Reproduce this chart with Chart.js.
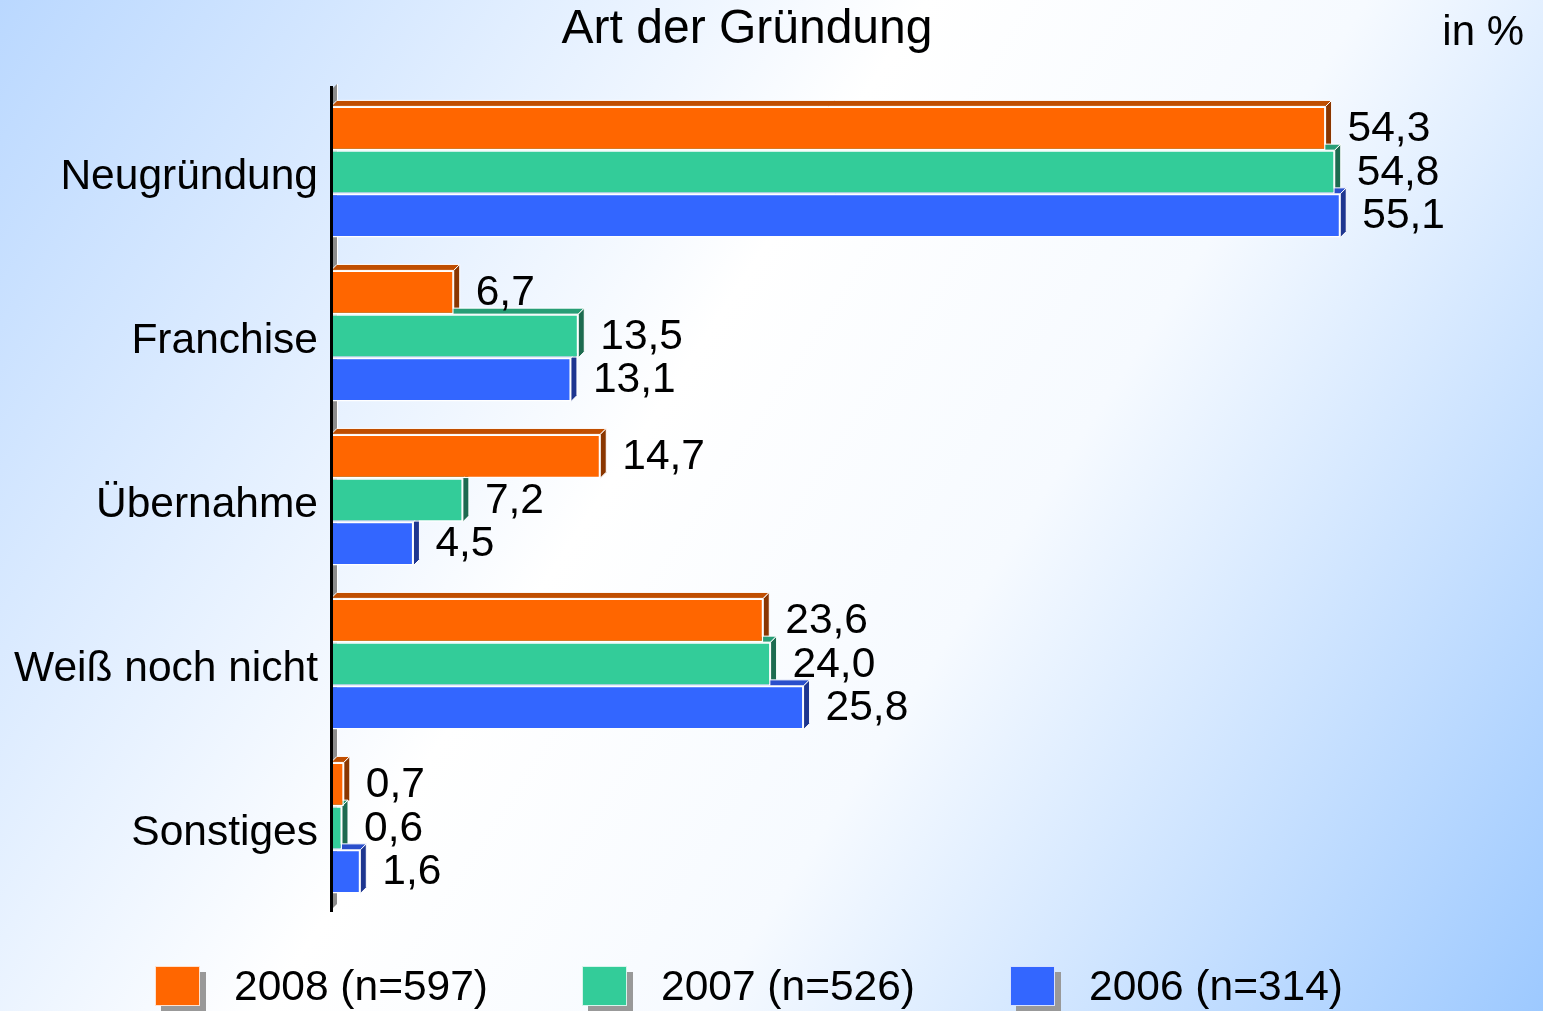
<!DOCTYPE html>
<html>
<head>
<meta charset="utf-8">
<script src="https://cdn.jsdelivr.net/npm/chart.js@4.4.1/dist/chart.umd.min.js"></script>
<style>
  html, body { margin: 0; padding: 0; overflow: hidden; }
  canvas { display: block; }
</style>
</head>
<body>
<canvas id="c" width="1543" height="1011"></canvas>
<script>
// ---- data ----
const categories = ['Neugründung', 'Franchise', 'Übernahme', 'Weiß noch nicht', 'Sonstiges'];
const seriesLabels = ['2008 (n=597)', '2007 (n=526)', '2006 (n=314)'];
const values2008 = [54.3, 6.7, 14.7, 23.6, 0.7];
const values2007 = [54.8, 13.5, 7.2, 24.0, 0.6];
const values2006 = [55.1, 13.1, 4.5, 25.8, 1.6];
const titleText = 'Art der Gründung';
const unitText = 'in %';

// ---- styles ----
const FONT = "'Liberation Sans', Arial, sans-serif";
const LABEL_SIZE = 42.5;
const frontColors = ['#FF6600', '#33CC99', '#3366FF'];
const topColors = ['#C04E00', '#279E76', '#2A4FCC'];
const sideColors = ['#8A3600', '#1D6B50', '#1E3690'];
const DEPTH = 6;

function fmt(v) { return v.toFixed(1).replace('.', ','); }

const bgPlugin = {
  id: 'bg',
  beforeDraw(chart) {
    const ctx = chart.ctx;
    const w = chart.width, h = chart.height;
    const g = ctx.createLinearGradient(0, 0, w, h);
    g.addColorStop(0, '#BAD8FF');
    g.addColorStop(0.42, '#FFFFFF');
    g.addColorStop(0.62, '#F6FAFF');
    g.addColorStop(1, '#9DC9FF');
    ctx.save();
    ctx.fillStyle = g;
    ctx.fillRect(0, 0, w, h);
    ctx.restore();
  }
};

const threeDPlugin = {
  id: 'threeD',
  beforeDatasetsDraw(chart) {
    const ctx = chart.ctx;
    const a = chart.chartArea;
    const d = DEPTH;
    ctx.save();
    // gray axis wall
    ctx.beginPath();
    ctx.moveTo(a.left, a.bottom);
    ctx.lineTo(a.left, a.top);
    ctx.lineTo(a.left + d, a.top - d);
    ctx.lineTo(a.left + d, a.bottom - d);
    ctx.closePath();
    ctx.fillStyle = '#8C8C8C';
    ctx.fill();
    ctx.strokeStyle = '#FFFFFF';
    ctx.lineWidth = 1;
    ctx.beginPath();
    ctx.moveTo(a.left + d + 0.5, a.top - d);
    ctx.lineTo(a.left + d + 0.5, a.bottom - d);
    ctx.stroke();

    // top and side faces
    chart.data.datasets.forEach((ds, i) => {
      const meta = chart.getDatasetMeta(i);
      meta.data.forEach((bar) => {
        const p = bar.getProps(['x', 'y', 'base', 'height'], true);
        const top = p.y - p.height / 2;
        const bottom = p.y + p.height / 2;
        const x0 = p.base, x1 = p.x;
        ctx.beginPath();
        ctx.moveTo(x0, top);
        ctx.lineTo(x1, top);
        ctx.lineTo(x1 + d, top - d);
        ctx.lineTo(x0 + d, top - d);
        ctx.closePath();
        ctx.fillStyle = topColors[i];
        ctx.fill();
        ctx.strokeStyle = '#FFFFFF';
        ctx.lineWidth = 1;
        ctx.stroke();
        ctx.beginPath();
        ctx.moveTo(x1, top);
        ctx.lineTo(x1 + d, top - d);
        ctx.lineTo(x1 + d, bottom - d);
        ctx.lineTo(x1, bottom);
        ctx.closePath();
        ctx.fillStyle = sideColors[i];
        ctx.fill();
        ctx.stroke();
      });
    });
    ctx.restore();
  },
  afterDatasetsDraw(chart) {
    const ctx = chart.ctx;
    const a = chart.chartArea;
    ctx.save();
    // black axis line
    ctx.strokeStyle = '#000000';
    ctx.lineWidth = 3;
    ctx.beginPath();
    ctx.moveTo(a.left + 0.5, a.top - 4);
    ctx.lineTo(a.left + 0.5, a.bottom + 2);
    ctx.stroke();

    // category labels, placed via the y scale
    const yScale = chart.scales.y;
    ctx.fillStyle = '#000000';
    ctx.font = LABEL_SIZE + 'px ' + FONT;
    ctx.textAlign = 'right';
    ctx.textBaseline = 'middle';
    chart.data.labels.forEach((lab, i) => {
      ctx.fillText(lab, a.left - 13, yScale.getPixelForTick(i) + 5);
    });

    // value labels
    ctx.textAlign = 'left';
    chart.data.datasets.forEach((ds, i) => {
      const meta = chart.getDatasetMeta(i);
      meta.data.forEach((bar, j) => {
        const p = bar.getProps(['x', 'y'], true);
        ctx.fillText(fmt(ds.data[j]), p.x + DEPTH + 16, p.y + 1);
      });
    });
    ctx.restore();
  },
  afterDraw(chart) {
    const ctx = chart.ctx;
    ctx.save();
    ctx.fillStyle = '#000000';
    ctx.textBaseline = 'middle';
    ctx.textAlign = 'center';
    ctx.font = '48px ' + FONT;
    ctx.fillText(titleText, 747, 30);
    ctx.textAlign = 'right';
    ctx.font = '42px ' + FONT;
    ctx.fillText(unitText, 1524, 33);

    // legend
    const boxX = [155, 582, 1010];
    const textX = [234, 661, 1089];
    chart.data.datasets.forEach((ds, i) => {
      ctx.fillStyle = '#999999';
      ctx.fillRect(boxX[i] + 6, 972, 45, 40);
      ctx.fillStyle = ds.backgroundColor;
      ctx.fillRect(boxX[i], 966, 45, 40);
      ctx.strokeStyle = 'rgba(255,255,255,0.8)';
      ctx.lineWidth = 1;
      ctx.strokeRect(boxX[i] + 0.5, 966.5, 44, 39);
      ctx.fillStyle = '#000000';
      ctx.textAlign = 'left';
      ctx.textBaseline = 'middle';
      ctx.font = LABEL_SIZE + 'px ' + FONT;
      ctx.fillText(ds.label, textX[i], 988);
    });
    ctx.restore();
  }
};

const seriesValues = [values2008, values2007, values2006];

new Chart(document.getElementById('c'), {
  type: 'bar',
  data: {
    labels: categories,
    datasets: seriesValues.map((vals, i) => ({
      label: seriesLabels[i],
      data: vals,
      backgroundColor: frontColors[i],
      borderColor: '#FFFFFF',
      borderWidth: 1.5,
      borderSkipped: false,
      categoryPercentage: 0.8,
      barPercentage: 1.0
    }))
  },
  options: {
    indexAxis: 'y',
    responsive: false,
    animation: false,
    devicePixelRatio: 1,
    layout: { padding: { top: 90, bottom: 101, left: 0, right: 113 } },
    plugins: {
      legend: { display: false },
      title: { display: false },
      tooltip: { enabled: false }
    },
    scales: {
      x: {
        display: false,
        min: 0,
        max: 60
      },
      y: {
        position: 'left',
        grid: { display: false, drawTicks: false },
        border: { display: false },
        ticks: { display: false },
        afterFit(scale) { scale.width = 331; }
      }
    }
  },
  plugins: [bgPlugin, threeDPlugin]
});
</script>
</body>
</html>
